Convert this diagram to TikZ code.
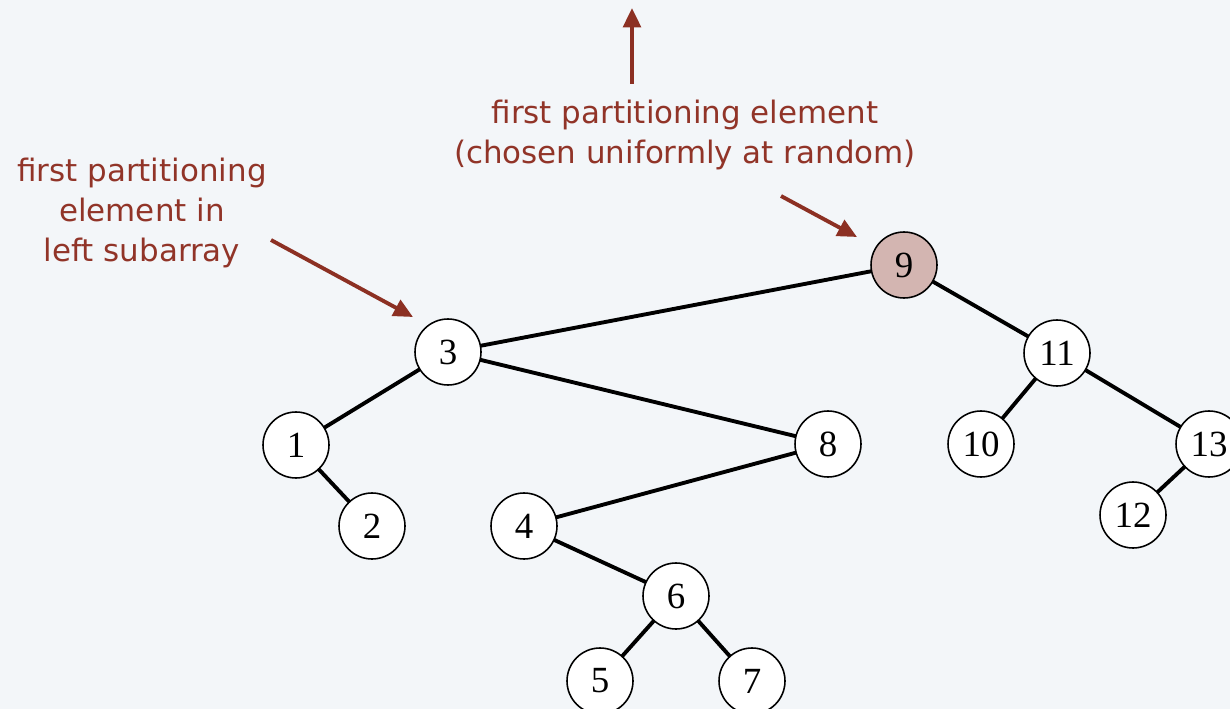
\documentclass[tikz,border=0pt]{standalone}
\usepackage{fontspec}
\newfontfamily\labelfont{DejaVu Sans}
\newfontfamily\keyfont{Liberation Serif}
\usetikzlibrary{arrows.meta}
\definecolor{bg}{RGB}{243,246,249}
\definecolor{arrowred}{RGB}{140,48,35}
\definecolor{textred}{RGB}{145,52,40}
\definecolor{pivotfill}{RGB}{211,181,177}
\tikzset{
  keynode/.style={circle, draw=black, line width=0.9pt, fill=white, minimum size=1.32cm, inner sep=0pt, font=\keyfont\fontsize{21}{24}\selectfont},
  pivot/.style={keynode, fill=pivotfill},
  edge/.style={line width=2.2pt, black},
  callout/.style={-{Triangle[length=11pt,width=10pt]}, line width=2.2pt, arrowred},
  note/.style={text=textred, align=center, font=\labelfont\fontsize{17.6}{22.7}\selectfont, inner sep=0pt}
}
\begin{document}
\begin{tikzpicture}[x={(0.02cm,0)}, y={(0,-0.02cm)}]
\useasboundingbox (0,0) rectangle (1230,709);
\clip (0,0) rectangle (1230,709);
\fill[bg] (0,0) rectangle (1230,709);
% edges first
\coordinate (p9) at (904,265);
\coordinate (p3) at (448,352);
\coordinate (p11) at (1057,353);
\coordinate (p1) at (296,445);
\coordinate (p8) at (828,444);
\coordinate (p10) at (981,444);
\coordinate (p13) at (1209,444);
\coordinate (p2) at (372,526);
\coordinate (p4) at (524,526);
\coordinate (p12) at (1133,515);
\coordinate (p6) at (676,596);
\coordinate (p5) at (600,681);
\coordinate (p7) at (752,681);
\draw[edge] (p9) -- (p3);
\draw[edge] (p9) -- (p11);
\draw[edge] (p3) -- (p1);
\draw[edge] (p3) -- (p8);
\draw[edge] (p1) -- (p2);
\draw[edge] (p8) -- (p4);
\draw[edge] (p4) -- (p6);
\draw[edge] (p6) -- (p5);
\draw[edge] (p6) -- (p7);
\draw[edge] (p11) -- (p10);
\draw[edge] (p11) -- (p13);
\draw[edge] (p13) -- (p12);
% nodes
\node[pivot] (n9) at (p9) {9};
\node[keynode] (n3) at (p3) {3};
\node[keynode] (n11) at (p11) {11};
\node[keynode] (n1) at (p1) {1};
\node[keynode] (n8) at (p8) {8};
\node[keynode] (n10) at (p10) {10};
\node[keynode] (n13) at (p13) {13};
\node[keynode] (n2) at (p2) {2};
\node[keynode] (n4) at (p4) {4};
\node[keynode] (n12) at (p12) {12};
\node[keynode] (n6) at (p6) {6};
\node[keynode] (n5) at (p5) {5};
\node[keynode] (n7) at (p7) {7};
% labels
\node[note] (topnote) at (685,135) {first partitioning element\\(chosen uniformly at random)};
\node[note] (leftnote) at (142,213) {first partitioning\\element in\\left subarray};
% arrows
\coordinate (upstart) at (632,84);
\coordinate (uptip) at (632,8);
\draw[callout] (upstart) -- (uptip);
\coordinate (a2s) at (781,196);
\coordinate (a2e) at (857,237);
\draw[callout] (a2s) -- (a2e);
\coordinate (a1s) at (271,240);
\coordinate (a1e) at (413,317);
\draw[callout] (a1s) -- (a1e);
\end{tikzpicture}
\end{document}
